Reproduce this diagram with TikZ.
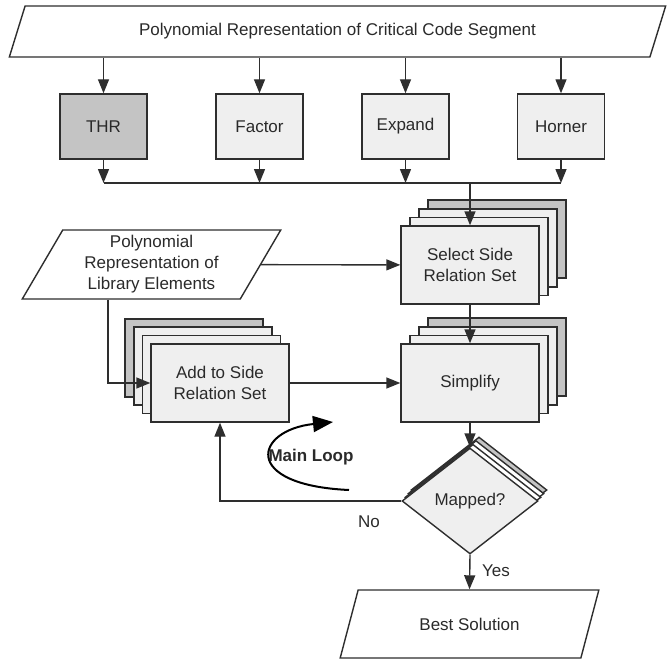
\documentclass[tikz,border=0pt]{standalone}
\usepackage{fontspec}
\setmainfont{Liberation Sans}
\usetikzlibrary{shapes.geometric,shadows,arrows.meta}
\definecolor{linecol}{HTML}{2E2E2E}
\definecolor{textcol}{HTML}{2A2A2A}
\definecolor{boxfill}{HTML}{EFEFEF}
\definecolor{darkfill}{HTML}{C4C4C4}
\begin{document}
\begin{tikzpicture}[x=1pt,y=-1pt,font=\fontsize{17}{21}\selectfont,text=textcol,
    box/.style={draw=linecol,line width=1.4pt,fill=boxfill,minimum width=87pt,minimum height=65pt,inner sep=2pt},
    bigbox/.style={box,minimum width=138pt,minimum height=78pt,align=center},
    io/.style={trapezium,trapezium left angle=63,trapezium right angle=117,trapezium stretches=true,
        draw=linecol,line width=1.4pt,fill=white,align=center,inner sep=2pt},
    arr/.style={draw=linecol,line width=1.4pt,-{Triangle[length=14pt,width=11pt]}},
    stackright/.style={copy shadow={shadow xshift=27pt,shadow yshift=26pt,fill=darkfill,draw=linecol},
        copy shadow={shadow xshift=18pt,shadow yshift=17pt,fill=boxfill,draw=linecol},
        copy shadow={shadow xshift=9pt,shadow yshift=8.5pt,fill=boxfill,draw=linecol}},
    stackleft/.style={copy shadow={shadow xshift=-26pt,shadow yshift=25pt,fill=darkfill,draw=linecol},
        copy shadow={shadow xshift=-17pt,shadow yshift=17pt,fill=boxfill,draw=linecol},
        copy shadow={shadow xshift=-8.6pt,shadow yshift=8.4pt,fill=boxfill,draw=linecol}},
    stackdiamond/.style={copy shadow={shadow xshift=9pt,shadow yshift=11pt,fill=darkfill,draw=linecol},
        copy shadow={shadow xshift=6pt,shadow yshift=7.4pt,fill=white,draw=linecol},
        copy shadow={shadow xshift=3pt,shadow yshift=3.7pt,fill=white,draw=linecol}}]
    \useasboundingbox (0,0) rectangle (668,663);

    \node[io,minimum width=659pt,minimum height=51pt] (top) at (337.5,31.5)
        {Polynomial Representation of Critical Code Segment};
    \node[box,fill=darkfill] (thr) at (103.5,126.5) {THR};
    \node[box] (fac) at (259.5,126.5) {Factor};
    \node[box] (exp) at (405.5,126.5) {Expand};
    \node[box] (hor) at (561,126.5) {Horner};
    \coordinate (bus) at (470,183);

    \node[io,minimum width=259pt,minimum height=69pt] (lib) at (151.5,264.5)
        {Polynomial\\Representation of\\Library Elements};
    \node[bigbox,stackright] (sel) at (470,265) {Select Side\\Relation Set};
    \node[bigbox,stackleft] (add) at (220,383) {Add to Side\\Relation Set};
    \node[bigbox,stackright] (simp) at (470,383) {Simplify};
    \node[diamond,aspect=1.28,minimum width=136pt,minimum height=106pt,inner sep=0pt,
        draw=linecol,line width=1.4pt,fill=boxfill,stackdiamond] (map) at (470,501) {Mapped?};
    \node[io,minimum width=259pt,minimum height=68pt] (best) at (469.5,624) {Best Solution};

    \foreach \n in {thr,fac,exp,hor} {
        \draw[arr] (top.south -| \n) -- (\n);
        \draw[arr] (\n) -- (\n |- bus);
    }
    \draw[linecol,line width=1.4pt] (thr |- bus) -- (hor |- bus);
    \draw[arr] (bus) -- (sel);
    \draw[arr] (lib) -- (sel);
    \draw[arr] ([xshift=-43.5pt]lib.south) |- (add);
    \draw[arr] (add) -- (simp);
    \draw[arr] (sel) -- (simp);
    \draw[arr] (simp) -- (map);
    \draw[arr] (map.west) -| (add.south);
    \draw[arr] (map.south) -- (best.north);
    \node (no) at (369,522) {No};
    \node (yes) at (496,571) {Yes};

    \coordinate (loopa) at (349,490);
    \coordinate (loopb) at (333,422);
    \draw[black,line width=2pt,-{Triangle[length=20pt,width=16pt]}]
        (loopa) .. controls (240,485) and (255,430) .. (loopb);
    \node[font=\fontsize{17}{21}\selectfont\bfseries] (loop) at (311,457) {Main Loop};
\end{tikzpicture}
\end{document}
